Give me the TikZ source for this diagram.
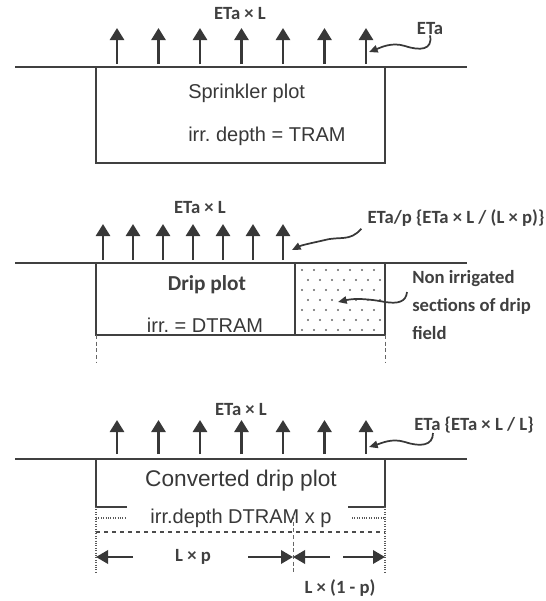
\documentclass[tikz,border=0pt]{standalone}
\usepackage{fontspec}
\setmainfont{Liberation Sans}
\newfontfamily\lblfont{Carlito}
\usetikzlibrary{arrows.meta,calc,positioning}
\frenchspacing

\begin{document}
\begin{tikzpicture}[x=0.75pt,y=-0.75pt,
  ground/.style={line width=1.2pt,black!75},
  plotbox/.style={line width=1.2pt,black!75},
  up/.style={line width=2pt,black!78,-{Triangle[width=10.5pt,length=9pt]}},
  squig/.style={line width=1.3pt,black!78,-{Triangle[width=5.5pt,length=6.5pt]}},
  dim/.style={line width=1.8pt,black!78,-{Triangle[width=10pt,length=9pt]}},
  guide/.style={line width=0.7pt,black!60,densely dashed},
  lbl/.style={font=\lblfont\bfseries\fontsize{14}{16}\selectfont,text=black!75,inner sep=0pt},
  plottxt/.style={font=\fontsize{15}{18}\selectfont,text=black!78,inner sep=0pt}]
\useasboundingbox (0,0) rectangle (546,601);

% sprinkler plot
\draw[ground] (15,67) -- (467,67);
\draw[plotbox] (96,67) rectangle (385,163);
\foreach \i in {0,...,6}
  \draw[up] ({117+41.5*\i},64) -- ++(0,-36);
\node[lbl] (etaL1) at (240,14) {ETa × L};
\node[lbl] (eta1) at (430,29) {ETa};
\coordinate (tip1) at (369,52);
\draw[squig] (eta1.south) .. controls (433,50) and (420,51) .. (405,46)
  .. controls (392,42) and (382,47) .. (tip1);
\node[plottxt,anchor=west] (spr) at (188,93) {Sprinkler plot};
\node[plottxt,anchor=west] (sprdepth) at (188,136) {irr. depth = TRAM};

% drip plot
\draw[ground] (15,263) -- (467,263);
\draw[plotbox] (96,263) rectangle (385,335);
\draw[plotbox] (295,263) -- (295,335);
\foreach \r in {0,...,6}
  \foreach \c in {0,...,6}
    \fill[black!60] ({302+12*\c+6*mod(\r,2)},{270+10*\r}) circle (1.1);
\draw[guide] (96,335) -- (96,363);
\draw[guide] (385,335) -- (385,363);
\foreach \i in {0,...,6}
  \draw[up] ({103+30*\i},260) -- ++(0,-36);
\node[lbl] (etaL2) at (200,208) {ETa × L};
\node[lbl] (etap) at (456,218) {ETa/p \{ETa × L / (L × p)\}};
\coordinate (tip2) at (292,250);
\draw[squig] ($(etap.south west)+(-6,2)$) .. controls (350,242) and (340,236) .. (325,240)
  .. controls (312,243) and (302,245) .. (tip2);
\node[lbl,font=\lblfont\bfseries\fontsize{16}{18}\selectfont] (drip) at (207,285) {Drip plot};
\node[plottxt] (dripdepth) at (205,325) {irr. = DTRAM};
\node[lbl,anchor=west,align=left,font=\lblfont\bfseries\fontsize{14}{21}\selectfont]
  (nonirr) at (412,305) {Non irrigated\\sections of drip\\field};
\coordinate (tip3) at (338,302);
\draw[squig] (407,292) .. controls (406,302) and (398,304) .. (385,302)
  .. controls (370,299) and (355,298) .. (tip3);

% converted drip plot
\draw[ground] (15,459) -- (467,459);
\draw[plotbox] (127,507) -- (96,507) -- (96,459);
\draw[plotbox] (348,507) -- (385,507) -- (385,459);
\foreach \i in {0,...,6}
  \draw[up] ({117+41.5*\i},454) -- ++(0,-34);
\node[lbl] (etaL3) at (241,410) {ETa × L};
\node[lbl] (eta3) at (474,425) {ETa \{ETa × L / L\}};
\coordinate (tip4) at (369,447);
\draw[squig] (433,433) .. controls (433,446) and (420,447) .. (405,442)
  .. controls (392,438) and (382,443) .. (tip4);
\node[plottxt,font=\fontsize{17}{20}\selectfont] (conv) at (241,481) {Converted drip plot};
\node[plottxt] (convdepth) at (241,518) {irr.depth DTRAM x p};
\draw[black!65,line width=0.8pt,densely dotted] (96,507) -- (96,573);
\draw[black!65,line width=0.8pt,densely dotted] (385,507) -- (385,573);
\draw[black!65,line width=0.8pt,densely dotted] (96,518) -- (125,518);
\draw[black!65,line width=0.8pt,densely dotted] (352,518) -- (385,518);
\draw[black!70,line width=1.2pt,dashed] (96,532) -- (385,532);
\draw[guide] (293,515) -- (293,572);
\coordinate (dl) at (96,557);
\coordinate (dm) at (293,557);
\coordinate (dr) at (385,557);
\node[lbl] (lp) at (193,557) {L × p};
\draw[dim] ($(dl)+(37,0)$) -- (dl);
\draw[dim] ($(dm)+(-45,0)$) -- (dm);
\draw[dim] ($(dm)+(37,0)$) -- (dm);
\draw[dim] ($(dr)+(-42,0)$) -- (dr);
\node[lbl] (l1p) at (340,588) {L × (1 - p)};
\end{tikzpicture}
\end{document}
